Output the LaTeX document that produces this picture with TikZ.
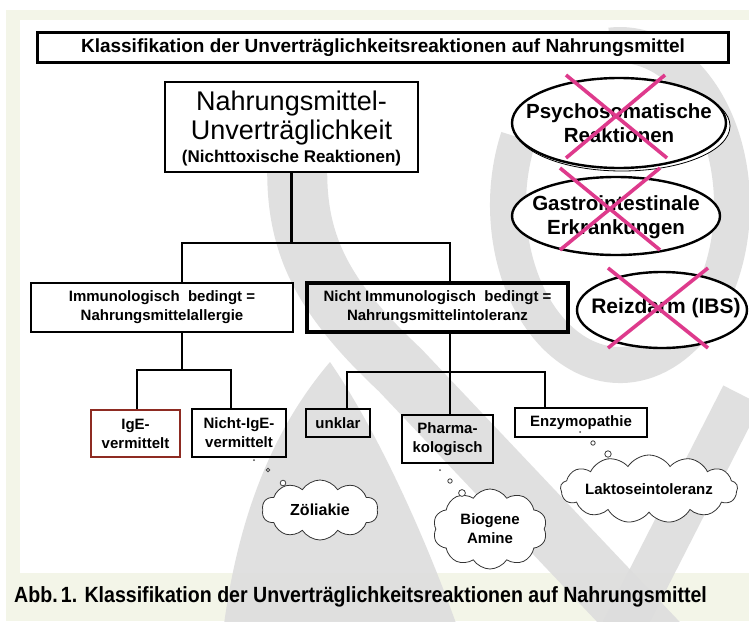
\documentclass[tikz,border=0pt]{standalone}
\usepackage{fontspec}
\setmainfont{Liberation Sans}
\usetikzlibrary{shapes.geometric,shapes.symbols,calc}
\definecolor{cream}{HTML}{F3F5E8}
\definecolor{wm}{HTML}{DDDDDD}
\definecolor{pinkx}{HTML}{DE3A8C}
\definecolor{igered}{HTML}{8E2B22}
\newcommand{\fsz}[2]{\fontsize{#1}{#2}\selectfont}
\tikzset{
  boxnode/.style={draw, line width=2.6pt, align=center, inner sep=0pt,
    font=\bfseries\fsz{15}{19}},
  conn/.style={line width=2.8pt},
  ell/.style={ellipse, draw, line width=2.4pt, fill=white, inner sep=0pt},
  elltext/.style={inner sep=0pt, align=center, font=\bfseries\fsz{20.5}{24}},
  crossline/.style={pinkx, line width=3.6pt},
  cloudnode/.style={cloud, cloud puffs=10, cloud puff arc=115, cloud ignores aspect,
    draw=black!80, line width=0.8pt, fill=white, align=center, inner sep=0pt,
    font=\bfseries\fsz{15}{19}},
  bubble/.style={draw=black!75, line width=0.8pt, fill=white},
  txt/.style={inner sep=0pt, align=center},
  wmstroke/.style={draw=wm, line width=#1, line cap=butt},
}
\begin{document}
\begin{tikzpicture}[x=1pt,y=-1pt]
\useasboundingbox (0,0) rectangle (749,621);
% background
\fill[white] (0,0) rectangle (749,621);
\fill[cream] (6,10) rectangle (749,621);
\fill[white] (20,20) rectangle (749,573);
% watermark
\begin{scope}
\clip (6,10) rectangle (749,621);
\begin{scope}[opacity=0.9]
\draw[wmstroke=36] (518.5,137.4) arc[start angle=-155, end angle=-455, x radius=112, y radius=160];
\draw[wmstroke=60] (298,150) .. controls (292,240) and (320,295) .. (400,370) -- (665,650);
\draw[wmstroke=42] (742,395) -- (612,650);
\fill[wm] (330,362) .. controls (272,430) and (236,520) .. (222,640) -- (462,640) .. controls (420,520) and (370,420) .. cycle;
\end{scope}
\end{scope}
% title
\node[boxnode, fill=white, minimum width=691, minimum height=30, font=\bfseries\fsz{19}{20}] (title) at (383,47.5)
  {Klassifikation der Unverträglichkeitsreaktionen auf Nahrungsmittel};
% main box
\node[boxnode, fill=white, minimum width=253, minimum height=90] (main) at (291.5,127) {};
\node[txt, font=\fsz{27}{30}] (m1) at (291.5,104) {Nahrungsmittel-};
\node[txt, font=\fsz{27}{30}] (m2) at (291.5,133) {Unverträglichkeit};
\node[txt, font=\bfseries\fsz{17}{20}] (m3) at (291.5,158) {(Nichttoxische Reaktionen)};
% level 2
\node[boxnode, minimum width=262, minimum height=49] (immu) at (162,307.5)
  {Immunologisch\ \ bedingt =\\Nahrungsmittelallergie};
\node[boxnode, line width=3.6pt, minimum width=261, minimum height=49] (nimmu) at (437.5,307.5)
  {Nicht Immunologisch\ \ bedingt =\\Nahrungsmittelintoleranz};
% level 3
\node[boxnode, draw=igered, minimum width=89, minimum height=47] (ige) at (135.5,433.5) {IgE-\\vermittelt};
\node[boxnode, minimum width=94, minimum height=48] (nige) at (239,433) {Nicht-IgE-\\vermittelt};
\node[boxnode, minimum width=64, minimum height=28] (unkl) at (338,423) {unklar};
\node[boxnode, minimum width=91, minimum height=48] (pharm) at (447.5,439) {Pharma-\\kologisch};
\node[boxnode, minimum width=132, minimum height=29] (enzy) at (581,422.5) {Enzymopathie};
% connectors
\coordinate (hL) at (182,243);
\coordinate (hR) at (450,243);
\draw[conn] (main.south) -- (main.south |- hL);
\draw[conn] (immu.north -| hL) -- (hL) -- (hR) -- (nimmu.north -| hR);
\coordinate (sL1) at (137,370);
\coordinate (sL2) at (231,370);
\draw[conn] (immu.south -| hL) -- (hL |- sL1);
\draw[conn] (ige.north -| sL1) -- (sL1) -- (sL2) -- (nige.north -| sL2);
\coordinate (sR1) at (347,372);
\coordinate (sR2) at (545,372);
\draw[conn] (nimmu.south -| hR) -- (hR |- sR1);
\draw[conn] (unkl.north -| sR1) -- (sR1) -- (sR2) -- (enzy.north -| sR2);
\draw[conn] (pharm.north -| hR) -- (hR |- sR1);
% ellipses
\draw[line width=0.8pt, fill=white] (622,126) ellipse (108 and 45);
\node[ell, minimum width=214, minimum height=90] (psych) at (619,123) {};
\node[elltext] (psychT) at (619,123.5) {Psychosomatische\\Reaktionen};
\node[ell, minimum width=208, minimum height=78] (gastro) at (616,216) {};
\node[elltext] (gastroT) at (616,217) {Gastrointestinale\\Erkrankungen};
\node[ell, minimum width=170, minimum height=76] (reiz) at (662,310) {};
\node[elltext, font=\bfseries\fsz{21}{24}] (reizT) at (666,308) {Reizdarm (IBS)};
% crosses
\draw[crossline] (566,75) -- (667,158);
\draw[crossline] (665,75) -- (566,158);
\draw[crossline] (560,168) -- (660,250);
\draw[crossline] (660,168) -- (560,250);
\draw[crossline] (608,268) -- (708,348);
\draw[crossline] (708,268) -- (608,348);
% clouds
\node[cloudnode, minimum width=116, minimum height=60, font=\bfseries\fsz{16}{19}] (zoel) at (320,510) {Zöliakie};
\node[cloudnode, minimum width=114, minimum height=80] (biog) at (490,529) {Biogene\\Amine};
\node[cloudnode, minimum width=172, minimum height=68, cloud puffs=13] (lakt) at (649,489) {Laktoseintoleranz};
% bubbles
\fill[black!70] (254,460) circle (1);
\draw[bubble] (268,470) circle (1.8);
\draw[bubble] (283,483) circle (2.8);
\fill[black!70] (440,470) circle (1);
\draw[bubble] (450,481) circle (2.2);
\draw[bubble] (462,493) circle (3.4);
\fill[black!70] (580,432) circle (1);
\draw[bubble] (593,443) circle (2.2);
\draw[bubble] (608,454) circle (3.2);
% caption
\node[anchor=west, inner sep=0pt] (cap) at (14,597)
  {\scalebox{0.89}[1]{\bfseries\fsz{22}{24}Abb.\,1. Klassifikation der Unverträglichkeitsreaktionen auf Nahrungsmittel}};
\end{tikzpicture}
\end{document}
